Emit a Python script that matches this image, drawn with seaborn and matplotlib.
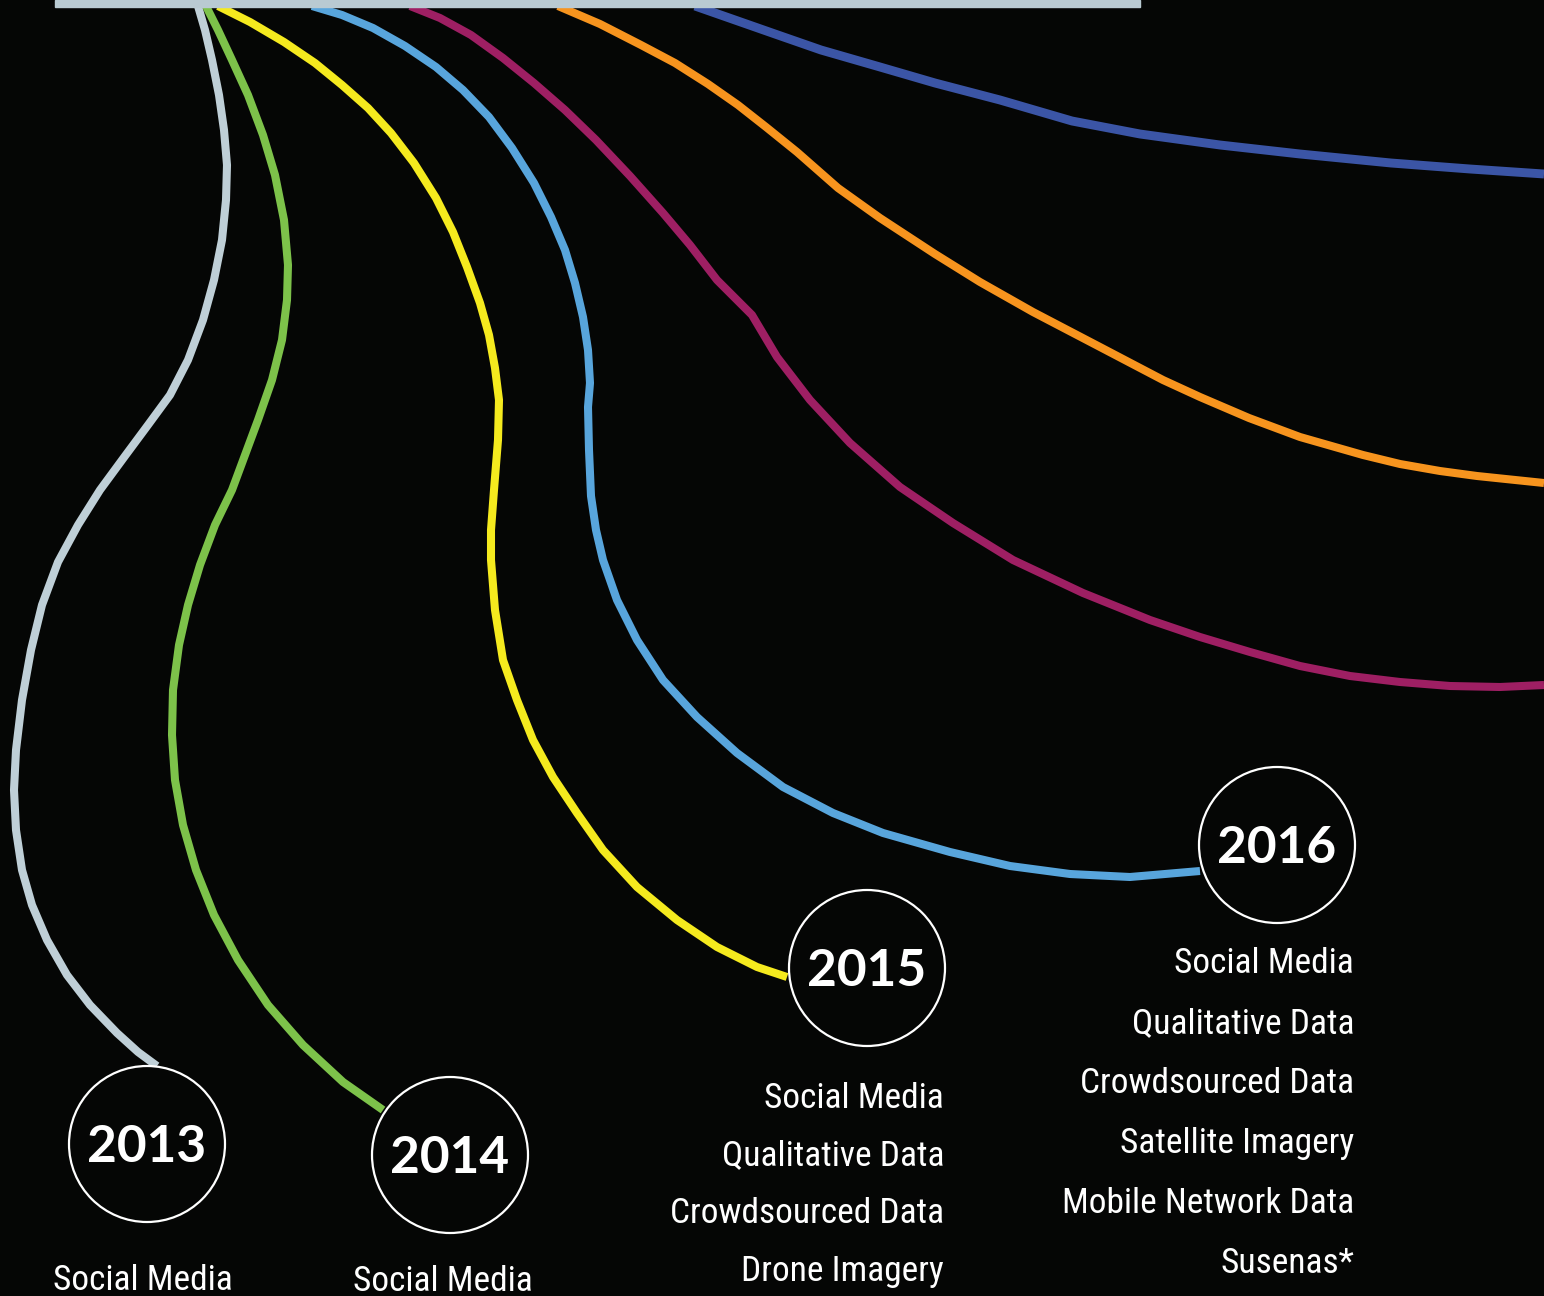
import numpy as np
import pandas as pd
import seaborn as sns
import matplotlib.pyplot as plt
from matplotlib.patches import Circle, Rectangle

# curves (pixel coords, y down)
gray_x = [198, 205, 212, 219, 224, 227, 226, 222, 214, 203, 188, 170, 148, 125, 100, 78, 58, 42,
          31, 22, 16, 14, 16, 22, 32, 47, 67, 90, 117, 138, 157]
gray_y = [6, 30, 60, 95, 130, 165, 200, 240, 280, 320, 360, 395, 425, 456, 490, 525, 562, 605,
          650, 700, 750, 790, 830, 870, 905, 940, 975, 1005, 1033, 1052, 1066]

green_x = [206, 218, 232, 248, 263, 275, 284, 288, 287, 282, 272, 258, 245, 232, 215, 200, 188,
           179, 173, 172, 175, 183, 196, 214, 238, 268, 303, 343, 383]
green_y = [6, 30, 60, 95, 135, 175, 220, 265, 300, 340, 380, 420, 455, 490, 525, 565, 605,
           645, 690, 735, 780, 825, 870, 915, 960, 1005, 1045, 1082, 1110]

yellow_x = [218, 250, 284, 315, 342, 368, 391, 414, 436, 453, 467, 480, 489, 495, 499, 498, 494,
            491, 491, 495, 503, 517, 533, 553, 577, 603, 637, 677, 717, 757, 787]
yellow_y = [6, 22, 42, 63, 85, 108, 133, 163, 198, 232, 267, 303, 335, 368, 400, 440, 490,
            530, 560, 610, 660, 700, 740, 777, 813, 850, 887, 920, 947, 967, 977]

blue_x = [312, 342, 373, 405, 436, 463, 489, 512, 534, 551, 565, 575, 583, 588, 590, 588, 589,
          591, 596, 603, 617, 637, 663, 697, 737, 783, 833, 883, 950, 1010, 1070, 1130, 1200]
blue_y = [6, 15, 28, 46, 67, 90, 117, 148, 183, 217, 250, 283, 317, 350, 383, 407, 450,
          496, 530, 560, 600, 640, 680, 717, 753, 787, 813, 833, 852, 866, 874, 877, 871]

magenta_x = [410, 440, 471, 503, 534, 565, 596, 630, 663, 690, 717, 752, 777, 810, 850, 900, 953,
             1013, 1083, 1150, 1200, 1250, 1300, 1350, 1400, 1450, 1500, 1544]
magenta_y = [6, 18, 35, 58, 83, 110, 140, 176, 213, 245, 280, 315, 357, 400, 443, 487, 523,
             560, 593, 620, 637, 652, 666, 676, 682, 686, 687, 685]

orange_x = [558, 600, 641, 675, 708, 738, 766, 797, 838, 880, 935, 980, 1033, 1100, 1163, 1200,
            1249, 1300, 1363, 1400, 1440, 1477, 1544]
orange_y = [6, 24, 45, 63, 84, 105, 127, 152, 188, 218, 254, 282, 312, 347, 380, 397,
            418, 437, 455, 464, 471, 476, 483]

navy_x = [695, 735, 775, 821, 880, 935, 1000, 1072, 1140, 1220, 1300, 1391, 1470, 1544]
navy_y = [6, 20, 34, 50, 67, 83, 100, 121, 134, 145, 154, 163, 169, 174]

curve_colors = ["#bfcfd7", "#7dc24a", "#f5ea1e", "#58a5dc", "#9e1f63", "#f7941e", "#3b55a6"]

years = ["2013", "2014", "2015", "2016"]
circle_x = [147, 450, 867, 1277]
circle_y = [1144, 1155, 968, 845]

labels_2013 = ["Social Media"]
labels_2014 = ["Social Media"]
labels_2015 = ["Social Media", "Qualitative Data", "Crowdsourced Data", "Drone Imagery"]
labels_2016 = ["Social Media", "Qualitative Data", "Crowdsourced Data",
               "Satellite Imagery", "Mobile Network Data", "Susenas*"]

bg = "#050605"
sns.set_theme(style="dark", rc={"axes.facecolor": bg, "figure.facecolor": bg})

fig = plt.figure(figsize=(15.44, 12.96), dpi=100)
ax = fig.add_axes([0, 0, 1, 1])

curves = [(gray_x, gray_y), (green_x, green_y), (yellow_x, yellow_y), (blue_x, blue_y),
          (magenta_x, magenta_y), (orange_x, orange_y), (navy_x, navy_y)]
for i, (cx, cy) in enumerate(curves):
    df = pd.DataFrame({"x": cx, "y": cy})
    lw = 6.4 if i == 6 else 5.8
    sns.lineplot(data=df, x="x", y="y", sort=False, estimator=None, ax=ax,
                 color=curve_colors[i], linewidth=lw, solid_capstyle="butt",
                 solid_joinstyle="round", zorder=2)

# top bar
ax.add_patch(Rectangle((55, 0), 1085, 7, color="#b9cad2", zorder=4))

year_font = ["Lato", "DejaVu Sans"]
label_font = ["Roboto Condensed", "Open Sans Condensed", "DejaVu Sans"]

for yr, x0, y0 in zip(years, circle_x, circle_y):
    ax.add_patch(Circle((x0, y0), 78, facecolor=bg, edgecolor="white", linewidth=1.6, zorder=5))
    ax.text(x0, y0 + 18, yr, color="white", fontsize=37, fontweight="bold",
            family=year_font, ha="center", va="baseline", zorder=6)

# label columns: anchor x, first baseline, line step, alignment
def label_block(items, x, y, step, ha):
    for k, s in enumerate(items):
        ax.text(x, y + k * step, s, color="white", fontsize=25.5, family=label_font,
                fontstretch="condensed", fontweight="normal",
                ha=ha, va="baseline", zorder=6)

label_block(labels_2013, 143, 1290, 58, "center")
label_block(labels_2014, 443, 1291, 58, "center")
label_block(labels_2015, 944, 1108, 57.5, "right")
label_block(labels_2016, 1354, 973, 60, "right")

ax.set_xlim(0, 1544)
ax.set_ylim(1296, 0)
ax.set_axis_off()
fig.savefig("out.png", dpi=100, facecolor=bg)
